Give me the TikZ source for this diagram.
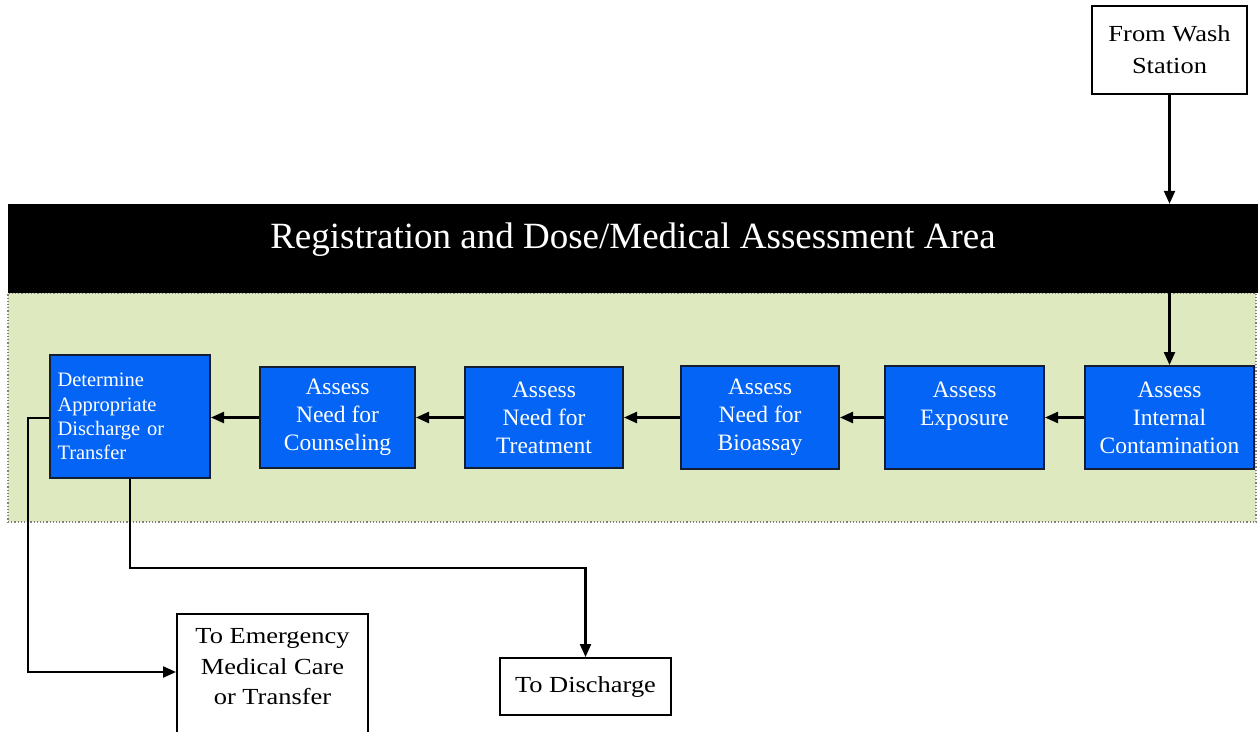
\documentclass[tikz,border=0pt]{standalone}
\usepackage{fontspec}
\setmainfont{Liberation Serif}
\newfontfamily\widefont{Liberation Serif}[FakeStretch=1.15]
\usetikzlibrary{arrows.meta}
\definecolor{areagreen}{RGB}{223,233,192}
\definecolor{boxblue}{RGB}{3,100,245}
\definecolor{boxline}{RGB}{20,30,50}
\begin{document}
\begin{tikzpicture}[x=1pt,y=-1pt,
  bluebox/.style={draw=boxline, line width=2pt, fill=boxblue, text=white, inner sep=0pt,
    align=center, font=\fontsize{23.5}{28}\selectfont},
  whitebox/.style={draw=black, line width=2pt, fill=white, inner sep=0pt, align=center,
    font=\widefont\fontsize{23}{31}\selectfont},
  arr/.style={line width=2.3pt, -{Triangle[length=13pt,width=11pt]}}]
\useasboundingbox (0,0) rectangle (1258,731);
% areas
\node[fill=areagreen, draw=gray, dotted, line width=1.2pt, minimum width=1248, minimum height=229, inner sep=0pt] (area) at (632,407.5) {};
\node[fill=black, minimum width=1250, minimum height=89, inner sep=0pt] (band) at (633,248.5) {};
\node[text=white, font=\fontsize{37}{40}\selectfont, inner sep=0pt] (title) at (633,239.5) {Registration and Dose/Medical Assessment Area};
% top box
\node[whitebox, minimum width=155, minimum height=88, font=\widefont\fontsize{23}{32}\selectfont] (wash) at (1169.5,50) {From Wash\\Station};
% blue boxes
\node[bluebox, minimum width=169, minimum height=103] (intc) at (1169.5,417.5) {Assess\\Internal\\Contamination};
\node[bluebox, minimum width=159, minimum height=103] (expo) at (964.5,417.5) {Assess\\Exposure\\\mbox{}};
\node[bluebox, minimum width=158, minimum height=103] (bio) at (760,417.5) {Assess\\Need for\\Bioassay};
\node[bluebox, minimum width=158, minimum height=101] (treat) at (544,417.5) {Assess\\Need for\\Treatment};
\node[bluebox, minimum width=155, minimum height=101] (couns) at (337.5,417.5) {Assess\\Need for\\Counseling};
\node[bluebox, minimum width=160, minimum height=123, text width=145pt, align=left,
  font=\fontsize{20.5}{24.3}\selectfont] (det) at (130,416.5) {Determine\\Appropriate\\Discharge or\\Transfer};
% bottom boxes
\node[whitebox, minimum width=191, minimum height=140, anchor=north] (emerg) at (272.5,613) {};
\node[align=center, inner sep=0pt, font=\widefont\fontsize{23}{30.5}\selectfont] (emergtext) at (272.5,667) {To Emergency\\Medical Care\\or Transfer};
\node[whitebox, minimum width=171, minimum height=57] (disc) at (585.5,686.5) {To Discharge};
% connectors
\draw[arr] (wash.south) -- (wash.south |- band.north);
\draw[arr] (band.south -| intc.north) -- (intc.north);
\draw[arr] (intc.west) -- (intc.west -| expo.east);
\draw[arr] (expo.west) -- (expo.west -| bio.east);
\draw[arr] (bio.west) -- (bio.west -| treat.east);
\draw[arr] (treat.west) -- (treat.west -| couns.east);
\draw[arr] (couns.west) -- (couns.west -| det.east);
\coordinate (c1) at (28,672);
\draw[arr] (det.west |- 0,418) -| (c1) -- (c1 -| emerg.west);
\coordinate (c2) at (585.5,568);
\draw[arr] (det.south) |- (c2) -- (disc.north);
\end{tikzpicture}
\end{document}
